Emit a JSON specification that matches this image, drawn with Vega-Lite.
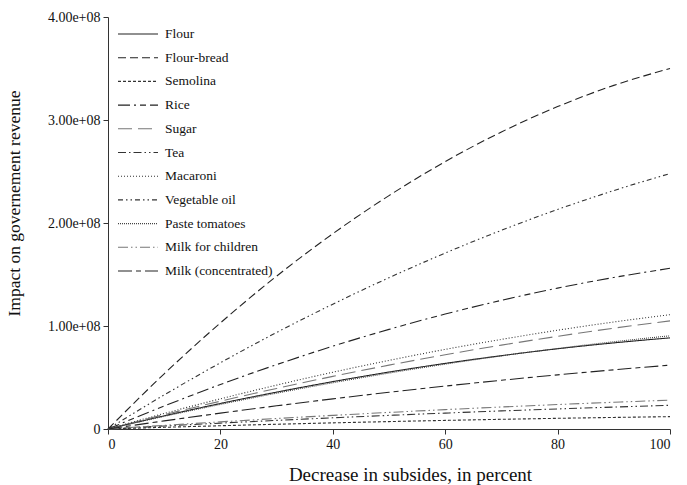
{
  "$schema": "https://vega.github.io/schema/vega-lite/v6.json",
  "width": 562,
  "height": 412,
  "autosize": {"type": "none"},
  "padding": {"left": 108, "top": 17, "right": 17, "bottom": 56},
  "background": "white",
  "config": {
    "view": {"stroke": null},
    "font": "Liberation Serif",
    "axis": {"grid": false, "domainColor": "#333", "tickColor": "#333", "labelColor": "#111", "titleColor": "#111", "labelFont": "Liberation Serif", "titleFont": "Liberation Serif", "labelFontSize": 14, "titleFontWeight": "normal", "tickSize": 5, "labelPadding": 3}
  },
  "data": {"values": [
    {"s":"Flour","x":0,"y":0},{"s":"Flour","x":10,"y":1.28e7},{"s":"Flour","x":20,"y":2.48e7},{"s":"Flour","x":30,"y":3.58e7},{"s":"Flour","x":40,"y":4.60e7},{"s":"Flour","x":50,"y":5.53e7},{"s":"Flour","x":60,"y":6.37e7},{"s":"Flour","x":70,"y":7.12e7},{"s":"Flour","x":80,"y":7.79e7},{"s":"Flour","x":90,"y":8.36e7},{"s":"Flour","x":100,"y":8.85e7},
    {"s":"Flour-bread","x":0,"y":0},{"s":"Flour-bread","x":10,"y":5.36e7},{"s":"Flour-bread","x":20,"y":1.030e8},{"s":"Flour-bread","x":30,"y":1.484e8},{"s":"Flour-bread","x":40,"y":1.896e8},{"s":"Flour-bread","x":50,"y":2.266e8},{"s":"Flour-bread","x":60,"y":2.596e8},{"s":"Flour-bread","x":70,"y":2.884e8},{"s":"Flour-bread","x":80,"y":3.130e8},{"s":"Flour-bread","x":90,"y":3.336e8},{"s":"Flour-bread","x":100,"y":3.50e8},
    {"s":"Semolina","x":0,"y":0},{"s":"Semolina","x":10,"y":1.63e6},{"s":"Semolina","x":20,"y":3.17e6},{"s":"Semolina","x":30,"y":4.61e6},{"s":"Semolina","x":40,"y":5.95e6},{"s":"Semolina","x":50,"y":7.20e6},{"s":"Semolina","x":60,"y":8.35e6},{"s":"Semolina","x":70,"y":9.41e6},{"s":"Semolina","x":80,"y":1.037e7},{"s":"Semolina","x":90,"y":1.123e7},{"s":"Semolina","x":100,"y":1.20e7},
    {"s":"Rice","x":0,"y":0},{"s":"Rice","x":10,"y":2.23e7},{"s":"Rice","x":20,"y":4.32e7},{"s":"Rice","x":30,"y":6.25e7},{"s":"Rice","x":40,"y":8.04e7},{"s":"Rice","x":50,"y":9.67e7},{"s":"Rice","x":60,"y":1.116e8},{"s":"Rice","x":70,"y":1.249e8},{"s":"Rice","x":80,"y":1.368e8},{"s":"Rice","x":90,"y":1.471e8},{"s":"Rice","x":100,"y":1.56e8},
    {"s":"Sugar","x":0,"y":0},{"s":"Sugar","x":10,"y":1.39e7},{"s":"Sugar","x":20,"y":2.70e7},{"s":"Sugar","x":30,"y":3.94e7},{"s":"Sugar","x":40,"y":5.11e7},{"s":"Sugar","x":50,"y":6.20e7},{"s":"Sugar","x":60,"y":7.21e7},{"s":"Sugar","x":70,"y":8.14e7},{"s":"Sugar","x":80,"y":9.00e7},{"s":"Sugar","x":90,"y":9.79e7},{"s":"Sugar","x":100,"y":1.05e8},
    {"s":"Tea","x":0,"y":0},{"s":"Tea","x":10,"y":2.92e6},{"s":"Tea","x":20,"y":5.70e6},{"s":"Tea","x":30,"y":8.35e6},{"s":"Tea","x":40,"y":1.086e7},{"s":"Tea","x":50,"y":1.323e7},{"s":"Tea","x":60,"y":1.546e7},{"s":"Tea","x":70,"y":1.755e7},{"s":"Tea","x":80,"y":1.950e7},{"s":"Tea","x":90,"y":2.132e7},{"s":"Tea","x":100,"y":2.30e7},
    {"s":"Macaroni","x":0,"y":0},{"s":"Macaroni","x":10,"y":1.51e7},{"s":"Macaroni","x":20,"y":2.93e7},{"s":"Macaroni","x":30,"y":4.26e7},{"s":"Macaroni","x":40,"y":5.51e7},{"s":"Macaroni","x":50,"y":6.66e7},{"s":"Macaroni","x":60,"y":7.73e7},{"s":"Macaroni","x":70,"y":8.70e7},{"s":"Macaroni","x":80,"y":9.59e7},{"s":"Macaroni","x":90,"y":1.039e8},{"s":"Macaroni","x":100,"y":1.11e8},
    {"s":"Vegetable oil","x":0,"y":0},{"s":"Vegetable oil","x":10,"y":3.31e7},{"s":"Vegetable oil","x":20,"y":6.43e7},{"s":"Vegetable oil","x":30,"y":9.37e7},{"s":"Vegetable oil","x":40,"y":1.212e8},{"s":"Vegetable oil","x":50,"y":1.469e8},{"s":"Vegetable oil","x":60,"y":1.708e8},{"s":"Vegetable oil","x":70,"y":1.929e8},{"s":"Vegetable oil","x":80,"y":2.131e8},{"s":"Vegetable oil","x":90,"y":2.315e8},{"s":"Vegetable oil","x":100,"y":2.48e8},
    {"s":"Paste tomatoes","x":0,"y":0},{"s":"Paste tomatoes","x":10,"y":1.23e7},{"s":"Paste tomatoes","x":20,"y":2.39e7},{"s":"Paste tomatoes","x":30,"y":3.48e7},{"s":"Paste tomatoes","x":40,"y":4.49e7},{"s":"Paste tomatoes","x":50,"y":5.43e7},{"s":"Paste tomatoes","x":60,"y":6.30e7},{"s":"Paste tomatoes","x":70,"y":7.10e7},{"s":"Paste tomatoes","x":80,"y":7.82e7},{"s":"Paste tomatoes","x":90,"y":8.47e7},{"s":"Paste tomatoes","x":100,"y":9.05e7},
    {"s":"Milk for children","x":0,"y":0},{"s":"Milk for children","x":10,"y":3.56e6},{"s":"Milk for children","x":20,"y":6.94e6},{"s":"Milk for children","x":30,"y":1.016e7},{"s":"Milk for children","x":40,"y":1.322e7},{"s":"Milk for children","x":50,"y":1.61e7},{"s":"Milk for children","x":60,"y":1.882e7},{"s":"Milk for children","x":70,"y":2.136e7},{"s":"Milk for children","x":80,"y":2.374e7},{"s":"Milk for children","x":90,"y":2.596e7},{"s":"Milk for children","x":100,"y":2.80e7},
    {"s":"Milk (concentrated)","x":0,"y":0},{"s":"Milk (concentrated)","x":10,"y":7.87e6},{"s":"Milk (concentrated)","x":20,"y":1.538e7},{"s":"Milk (concentrated)","x":30,"y":2.251e7},{"s":"Milk (concentrated)","x":40,"y":2.926e7},{"s":"Milk (concentrated)","x":50,"y":3.565e7},{"s":"Milk (concentrated)","x":60,"y":4.166e7},{"s":"Milk (concentrated)","x":70,"y":4.731e7},{"s":"Milk (concentrated)","x":80,"y":5.258e7},{"s":"Milk (concentrated)","x":90,"y":5.747e7},{"s":"Milk (concentrated)","x":100,"y":6.20e7}
  ]},
  "mark": {"type": "line", "strokeWidth": 1.1, "interpolate": "monotone", "strokeCap": "butt"},
  "encoding": {
    "x": {"field": "x", "type": "quantitative", "scale": {"domain": [0, 100], "nice": false}, "axis": {"values": [0, 20, 40, 60, 80, 100], "title": "Decrease in subsides, in percent", "titleFontSize": 19, "titleX": 302, "titleY": 51, "titleBaseline": "alphabetic"}},
    "y": {"field": "y", "type": "quantitative", "scale": {"domain": [0, 400000000], "nice": false}, "axis": {"values": [0, 100000000, 200000000, 300000000, 400000000], "labelExpr": "datum.value == 0 ? '0' : replace(format(datum.value, '.2e'), 'e+', 'e+0')", "title": "Impact on governement revenue", "titleFontSize": 17.5, "titleY": 186, "titlePadding": 24}},
    "detail": {"field": "s"},
    "color": {"field": "s", "type": "nominal", "scale": {"domain": ["Flour","Flour-bread","Semolina","Rice","Sugar","Tea","Macaroni","Vegetable oil","Paste tomatoes","Milk for children","Milk (concentrated)"], "range": ["#222","#222","#333","#222","#777","#333","#333","#333","#444","#777","#222"]}, "legend": {"title": null, "orient": "none", "legendX": 19, "legendY": 6, "symbolType": "M-2,0H2", "symbolSize": 400, "symbolStrokeWidth": 1.1, "labelOffset": 16, "labelFontSize": 13.5, "labelFont": "Liberation Serif", "labelColor": "#111", "rowPadding": 5.7, "padding": 0}},
    "strokeDash": {"field": "s", "type": "nominal", "scale": {"domain": ["Flour","Flour-bread","Semolina","Rice","Sugar","Tea","Macaroni","Vegetable oil","Paste tomatoes","Milk for children","Milk (concentrated)"], "range": [[1,0],[8,4],[3,2],[12,4,2,4,6,4],[14,6],[8,3,1.5,3,8,3,1.5,3,1.5,3],[1,2],[5,3,1.5,3,1.5,3],[1,1],[10,3,1.5,3,1.5,3],[14,4,5,4]]}, "legend": {"title": null, "orient": "none", "legendX": 19, "legendY": 6, "symbolType": "M-2,0H2", "symbolSize": 400, "symbolStrokeWidth": 1.1, "labelOffset": 16, "labelFontSize": 13.5, "labelFont": "Liberation Serif", "labelColor": "#111", "rowPadding": 5.7, "padding": 0}}
  }
}
